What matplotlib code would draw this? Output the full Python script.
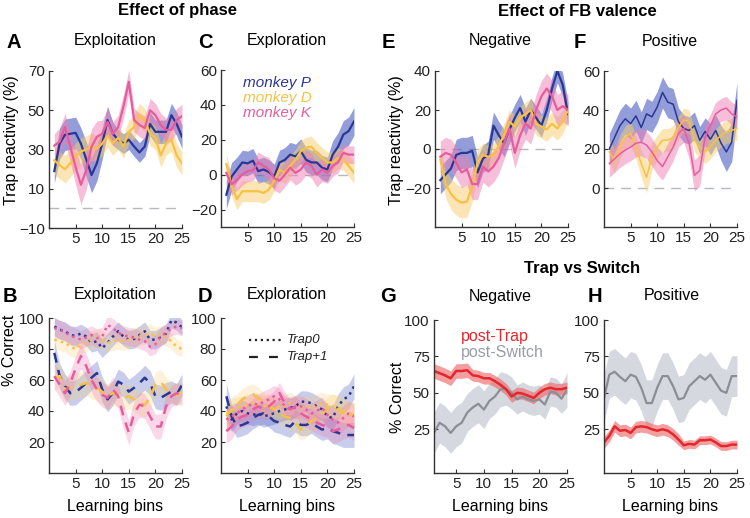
import numpy as np
import matplotlib
matplotlib.use('Agg')
import matplotlib.pyplot as plt

plt.rcParams['font.family'] = ['Liberation Sans', 'DejaVu Sans']

# %% Data
bins = np.arange(1, 26)        # learning bins, panels A-G
bins_h = np.arange(0, 26)      # panel H

# A - trap reactivity, exploitation
a_P = [19, 33, 37.5, 38, 38.5, 33, 25, 17, 23, 33, 45, 38, 35, 33, 35, 31.5, 28.5, 31.5, 43, 39, 39, 39, 47.5, 43, 36.5]
a_P_err = [6, 8, 8, 8, 8, 8, 9, 9, 9, 8, 7, 6, 5, 5, 5, 5, 5, 5, 6, 6, 6, 6, 6, 6, 6]
a_D = [24.5, 22, 20, 23, 26.5, 29, 30, 31.5, 30.5, 33, 37, 33, 36, 31.5, 39, 41.5, 47.5, 45, 38, 36, 27, 33, 35, 27, 23]
a_D_err = [7, 7, 7, 7, 7, 7, 7, 7, 6, 6, 6, 6, 6, 6, 6, 6, 6, 6, 6, 6, 6, 6, 6, 6, 6]
a_K = [32, 34, 41.5, 31.5, 21, 12, 19.5, 31.5, 36.5, 38, 44, 38, 41.5, 52, 64.5, 45, 42.5, 41, 50, 47.5, 42.5, 40, 40, 45, 47]
a_K_err = [6, 7, 7, 8, 9, 10, 10, 9, 8, 7, 7, 6, 6, 6, 6, 6, 6, 6, 6, 6, 6, 6, 6, 6, 6]

# C - trap reactivity, exploration
c_P = [-11.5, -1, 3, 7, 6.5, 8, 2, 3, 1.5, -1, 7, 8.5, 11.5, 10.5, 13.5, 8.5, 7, 7, 4, 3, 11.5, 16, 23, 25, 30.5]
c_P_err = [8, 8, 7, 7, 7, 7, 7, 7, 7, 7, 7, 7, 7, 7, 7, 7, 7, 7, 7, 7, 8, 8, 8, 8, 8]
c_D = [6, -6.5, -14, -9.5, -9.5, -9.5, -9.5, -10.5, -8.5, -3.5, 3, 1, 5, 8.5, 13.5, 15.5, 16, 12.5, 9.5, 7, 7, 9.5, 8.5, 5, 1]
c_D_err = [6, 6, 6, 6, 6, 6, 6, 6, 6, 6, 6, 6, 6, 6, 6, 6, 6, 6, 6, 6, 6, 6, 6, 6, 6]
c_K = [1, -5.5, -3, 0, 2, 2.5, 7, 5, 3, -2, -3.5, 0, 4, 1, 3, 7, 5, 0, 3, 1, 5, 7, 12.5, 11.5, 11.5]
c_K_err = [6, 6, 6, 6, 6, 6, 6, 6, 7, 7, 7, 7, 7, 7, 7, 7, 7, 7, 7, 6, 6, 6, 5, 5, 5]

# E - negative feedback
e_P = [-16, -13, -10, -3, -2, -2, -1, -12, -5, -3, 12, 7, 3, 10, 16, 21, 14, 20, 16, 12, 20, 31, 40, 33, 18]
e_P_err = [7, 7, 7, 8, 8, 8, 8, 8, 7, 7, 7, 7, 7, 7, 7, 7, 7, 6, 6, 6, 6, 6, 6, 6, 6]
e_D = [-5.5, -18, -23, -26, -27.5, -27, -19, -7, -3, -4, -3, 1.5, 7.5, 14, 11.5, 16, 18, 20, 13, 11.5, 10, 13, 10.5, 14, 20]
e_D_err = [7, 7, 8, 8, 8, 8, 8, 7, 6, 6, 6, 6, 6, 6, 6, 6, 6, 6, 6, 6, 6, 6, 6, 6, 6]
e_K = [-4, -2, -3, -7, -12, -10.5, -18, -18, -9, -11.5, -9, -4.5, 3, 10.5, -2, 7, 13, 10.5, 20, 27, 31, 27, 20, 22, 20]
e_K_err = [8, 8, 8, 8, 8, 8, 8, 8, 8, 8, 8, 8, 8, 8, 8, 8, 8, 8, 8, 8, 8, 8, 8, 8, 8]

# F - positive feedback
f_P = [20, 26, 32, 35.5, 33, 37, 31, 38, 36.5, 41.5, 49, 44, 43, 34, 30.5, 29.5, 32, 24.5, 29, 25, 29.5, 23, 18.5, 23.5, 45]
f_P_err = [8, 8, 8, 8, 8, 8, 8, 8, 8, 8, 8, 8, 8, 7, 7, 7, 7, 7, 7, 8, 8, 9, 10, 10, 9]
f_D = [18.5, 14, 21, 26, 28, 21, 12.5, 5.5, 16, 21, 24.5, 24.5, 26, 31, 35, 34, 24.5, 21, 18.5, 21, 24.5, 27, 29, 29.5, 30.5]
f_D_err = [6, 6, 6, 6, 6, 6, 7, 8, 7, 6, 6, 6, 6, 6, 6, 6, 6, 6, 6, 6, 6, 6, 6, 6, 6]
f_K = [12.5, 15, 17.5, 19.5, 21, 23, 23.5, 22, 18.5, 14, 11, 16, 21, 28, 30.5, 23, 6.5, 9, 26, 32, 38, 40, 41, 38, 36.5]
f_K_err = [7, 7, 7, 7, 7, 7, 7, 7, 7, 7, 7, 7, 7, 7, 7, 8, 8, 8, 7, 6, 6, 6, 6, 6, 6]

# B - % correct, exploitation (Trap0 dotted / Trap+1 dashed)
b_P0 = [94.5, 92.5, 91.5, 89, 88.5, 90, 88, 84, 85, 80.5, 84, 88, 91.5, 88, 86, 86.5, 89, 91.5, 86, 86, 88, 90, 98.5, 97, 94]
b_K0 = [93.5, 92.5, 91, 88.5, 87.5, 86, 87.5, 89, 87, 88, 95.5, 93.5, 90.5, 89, 88, 87.5, 86, 85, 81.5, 83, 88, 90.5, 93.5, 94.5, 93.5]
b_D0 = [86, 85, 84, 81.5, 80, 83, 84.5, 86, 87, 86, 84, 85, 86, 85, 86, 87.5, 88.5, 89, 90.5, 88, 89, 88, 85, 81.5, 80]
b_P1 = [77.5, 62.5, 56, 51.5, 52, 55, 58, 61.5, 64.5, 54, 47.5, 51.5, 59, 57, 52.5, 55, 58, 61.5, 58, 49.5, 48.5, 50.5, 52.5, 50.5, 57]
b_K1 = [62.5, 57, 51.5, 58, 67.5, 75.5, 69, 60, 54, 50.5, 48.5, 54, 49.5, 36.5, 26, 38.5, 44, 43, 36.5, 30, 30, 43, 49.5, 51.5, 50.5]
b_D1 = [61.5, 62.5, 54, 55, 56, 57, 58, 56, 55, 52.5, 49.5, 51.5, 50.5, 48.5, 49.5, 47.5, 45, 44, 48.5, 57, 59, 54, 51.5, 50.5, 52.5]
b_err0 = [6, 6, 6, 6, 6, 6, 6, 6, 6, 6, 6, 6, 6, 6, 6, 6, 6, 6, 6, 6, 6, 6, 5, 5, 5]
b_err1 = [8, 8, 8, 8, 8, 8, 8, 8, 8, 8, 8, 8, 8, 8, 8, 8, 8, 8, 8, 8, 8, 8, 7, 7, 7]

# D - % correct, exploration
d_P0 = [43, 34.5, 38.5, 40, 38.5, 37.5, 38.5, 36.5, 37.5, 38.5, 40, 41, 42, 43, 46, 46, 45, 43, 41, 36.5, 35.5, 43, 47.5, 49.5, 56]
d_K0 = [34.5, 36.5, 38.5, 41, 43, 45, 44, 46, 47.5, 49.5, 47.5, 43, 41, 42, 43, 41, 38.5, 40, 42, 37.5, 34.5, 32.5, 35.5, 38.5, 36.5]
d_D0 = [38.5, 40, 42, 43, 44, 45, 44, 43, 44, 43, 42, 44, 45, 43, 42, 43, 42, 44, 45, 44, 43, 42, 41, 38.5, 37.5]
d_P1 = [49.5, 36.5, 30, 31, 32.5, 35.5, 37.5, 38.5, 36.5, 33.5, 32.5, 31, 30, 33.5, 31, 31, 32.5, 30, 28, 29, 27, 26, 24.5, 24.5, 24.5]
d_K1 = [27, 30, 34.5, 36.5, 37.5, 41, 43, 41, 43, 46, 51.5, 45, 41, 43, 38.5, 36.5, 34.5, 32.5, 31, 30, 27, 28, 30, 31, 29]
d_D1 = [36.5, 41, 44, 47.5, 49.5, 50.5, 48.5, 45, 43, 41, 38.5, 36.5, 35.5, 32.5, 28, 30, 33.5, 35.5, 37.5, 42, 43, 41, 38.5, 36.5, 37.5]
d_err = [8, 8, 7, 7, 7, 7, 7, 7, 7, 7, 7, 7, 7, 7, 7, 7, 7, 7, 7, 7, 8, 8, 8, 8, 8]

# G - Trap vs Switch, negative
g_trap = [65, 63.5, 62, 60, 65, 65, 65.5, 62, 61.5, 60, 60, 58, 55.5, 52.5, 47.5, 50, 49.5, 48, 46.5, 50, 52.5, 53.5, 52.5, 52.5, 53.5]
g_trap_err = [5, 5, 5, 5, 5, 5, 5, 4, 4, 4, 4, 4, 4, 4, 4, 4, 4, 4, 4, 4, 4, 4, 4, 4, 4]
g_switch = [22.5, 29.5, 27, 22.5, 27, 29.5, 36.5, 40, 42.5, 38.5, 44.5, 47.5, 52.5, 52.5, 50, 45.5, 47.5, 45.5, 44.5, 45.5, 42, 51, 50, 46, 52]
g_switch_err = [14, 14, 14, 14, 14, 14, 13, 13, 13, 13, 12, 12, 12, 11, 11, 10, 10, 10, 10, 10, 10, 10, 10, 10, 12]

# H - Trap vs Switch, positive
h_trap = [16, 20.5, 27, 24, 24.5, 22.5, 26.5, 27, 26.5, 25, 24, 25, 24, 21.5, 18, 14, 15, 14.5, 17.5, 17.5, 18, 16, 13.5, 13.5, 14.5, 14.5]
h_trap_err = [4, 4, 4, 4, 4, 4, 4, 4, 4, 4, 4, 4, 4, 4, 4, 3, 3, 3, 3, 3, 3, 3, 3, 3, 3, 3]
h_switch = [46.5, 62.5, 64.5, 61, 58, 62.5, 61, 53.5, 43, 43, 53.5, 61.5, 61.5, 54.5, 45.5, 46.5, 54.5, 58, 61.5, 59, 62.5, 57, 51.5, 50, 61.5, 61.5]
h_switch_err = [16, 16, 16, 16, 16, 16, 16, 16, 16, 16, 16, 16, 16, 16, 16, 16, 16, 16, 16, 16, 16, 16, 16, 16, 14, 14]

# colours
col_P = '#2b3794'
col_D = '#f7c244'
col_K = '#e85c9e'
band_P = '#4a5cc0'
band_D = '#f9cd6b'
band_K = '#ef7fb2'
col_trap = '#e4262d'
col_switch = '#8b8f95'

W, H = 750, 518
fig = plt.figure(figsize=(7.5, 5.18), dpi=100)


def px_axes(left, top, right, bottom):
    return fig.add_axes([left / W, 1 - bottom / H, (right - left) / W, (bottom - top) / H])


def ftext(x, y, s, **kw):
    fig.text(x / W, 1 - y / H, s, ha=kw.pop('ha', 'center'), va=kw.pop('va', 'center'), **kw)


def style(ax, xlim, ylim, yticks):
    for s in ['top', 'right']:
        ax.spines[s].set_visible(False)
    for s in ['left', 'bottom']:
        ax.spines[s].set_color('#333333')
        ax.spines[s].set_linewidth(1.0)
    ax.set_xlim(xlim)
    ax.set_ylim(ylim)
    ax.set_xticks([5, 10, 15, 20, 25])
    ax.set_yticks(yticks)
    ax.tick_params(direction='in', length=3, width=0.8, labelsize=11, colors='#333333',
                   labelcolor='#222222', pad=3)


def band(ax, x, m, e, color, alpha):
    m = np.array(m)
    e = np.array(e)
    ax.fill_between(x, m - e, m + e, color=color, alpha=alpha, lw=0)


# %% Top row: trap reactivity
top_panels = [
    ((49, 71, 182, 228), (-10, 70), [-10, 10, 30, 50, 70],
     [(a_P, a_P_err), (a_D, a_D_err), (a_K, a_K_err)], 1.6),
    ((221, 70, 354, 227), (-30, 60), [-20, 0, 20, 40, 60],
     [(c_P, c_P_err), (c_D, c_D_err), (c_K, c_K_err)], 1.6),
    ((435, 71, 568, 227), (-40, 40), [-20, 0, 20, 40],
     [(e_P, e_P_err), (e_D, e_D_err), (e_K, e_K_err)], 1.6),
    ((604, 71, 737, 227), (-20, 60), [0, 20, 40, 60],
     [(f_P, f_P_err), (f_D, f_D_err), (f_K, f_K_err)], 1.1),
]
top_axes = []
for rect, ylim, yt, series, lw in top_panels:
    ax = px_axes(*rect)
    style(ax, (0, 25), ylim, yt)
    ax.axhline(0, color='#b5b8bd', lw=1.0, dashes=(7, 5), zorder=1)
    for (m, e), bc, a in zip(series, [band_P, band_D, band_K], [0.6, 0.5, 0.5]):
        band(ax, bins, m, e, bc, a)
    for (m, e), lc in zip(series, [col_P, col_D, col_K]):
        ax.plot(bins, m, color=lc, lw=lw)
    top_axes.append(ax)

# legend in C
axC = top_axes[1]
for i, (name, c) in enumerate(zip(['monkey P', 'monkey D', 'monkey K'], [col_P, col_D, col_K])):
    axC.text(0.165, 0.915 - i * 0.095, name, transform=axC.transAxes, color=c,
             fontsize=11, style='italic', va='center', ha='left')

# %% Bottom left: % correct per monkey
bottom_panels = [
    ((49, 318, 182, 473), [(b_P0, b_P1), (b_D0, b_D1), (b_K0, b_K1)], b_err0, b_err1),
    ((221, 318, 354, 473), [(d_P0, d_P1), (d_D0, d_D1), (d_K0, d_K1)], d_err, d_err),
]
bottom_axes = []
for rect, series, err0, err1 in bottom_panels:
    ax = px_axes(*rect)
    style(ax, (0, 25), (0, 100), [20, 40, 60, 80, 100])
    for (m0, m1), bc, a in zip(series, [band_P, band_D, band_K], [0.3, 0.25, 0.3]):
        band(ax, bins, m0, err0, bc, a)
        band(ax, bins, m1, err1, bc, a)
    for (m0, m1), lc in zip(series, [col_P, col_D, col_K]):
        ax.plot(bins, m0, color=lc, lw=1.8, ls=':')
        ax.plot(bins, m1, color=lc, lw=1.8, dashes=(4, 3))
    bottom_axes.append(ax)

# linestyle legend in D
axD = bottom_axes[1]
axD.plot([5.3, 11.5], [86, 86], color='#222222', lw=1.6, ls=':')
axD.plot([5.3, 11.5], [75, 75], color='#222222', lw=1.6, dashes=(4, 5))
axD.text(12.3, 86, 'Trap0', fontsize=9.5, style='italic', va='center', color='#222222')
axD.text(12.3, 75, 'Trap+1', fontsize=9.5, style='italic', va='center', color='#222222')

# %% Bottom right: Trap vs Switch
axG = px_axes(434, 320, 567, 473)
style(axG, (1, 25), (-5, 100), [25, 50, 75, 100])
band(axG, bins, g_switch, g_switch_err, '#c7ccd5', 0.75)
band(axG, bins, g_trap, g_trap_err, '#ee6a6c', 0.65)
axG.plot(bins, g_switch, color=col_switch, lw=1.6)
axG.plot(bins, g_trap, color=col_trap, lw=1.8)
axG.text(0.2, 0.89, 'post-Trap', transform=axG.transAxes, color=col_trap, fontsize=11.5,
         va='center')
axG.text(0.2, 0.79, 'post-Switch', transform=axG.transAxes, color='#9a9ea4', fontsize=11.5,
         va='center')

axH = px_axes(604, 320, 737, 473)
style(axH, (0, 25), (-5, 100), [25, 50, 75, 100])
band(axH, bins_h, h_switch, h_switch_err, '#c7ccd5', 0.75)
band(axH, bins_h, h_trap, h_trap_err, '#ee6a6c', 0.65)
axH.plot(bins_h, h_switch, color=col_switch, lw=1.6)
axH.plot(bins_h, h_trap, color=col_trap, lw=1.8)

# %% Labels and headings
ftext(177, 11, 'Effect of phase', fontsize=12, fontweight='bold')
ftext(577, 11, 'Effect of FB valence', fontsize=12, fontweight='bold')
ftext(582, 268, 'Trap vs Switch', fontsize=12, fontweight='bold')

for x, y, s in [(14, 42, 'A'), (205, 42, 'C'), (388, 42, 'E'), (580, 42, 'F'),
                (10, 296, 'B'), (205, 296, 'D'), (388, 297, 'G'), (595, 296, 'H')]:
    ftext(x, y, s, fontsize=14.5, fontweight='bold')

for x, y, s in [(115, 41, 'Exploitation'), (287, 41, 'Exploration'), (500, 41, 'Negative'),
                (670, 41, 'Positive'), (115, 295, 'Exploitation'), (287, 295, 'Exploration'),
                (500, 296, 'Negative'), (672, 295, 'Positive')]:
    ftext(x, y, s, fontsize=11.5)

ftext(12, 140, 'Trap reactivity (%)', fontsize=11.5, rotation=90)
ftext(396, 140, 'Trap reactivity (%)', fontsize=11.5, rotation=90)
ftext(10, 350, '% Correct', fontsize=11.5, rotation=90)
ftext(397, 397, '% Correct', fontsize=11.5, rotation=90)

for xc in [115, 287, 500, 670]:
    ftext(xc, 506, 'Learning bins', fontsize=11.5)

fig.savefig('out.png', dpi=100)
